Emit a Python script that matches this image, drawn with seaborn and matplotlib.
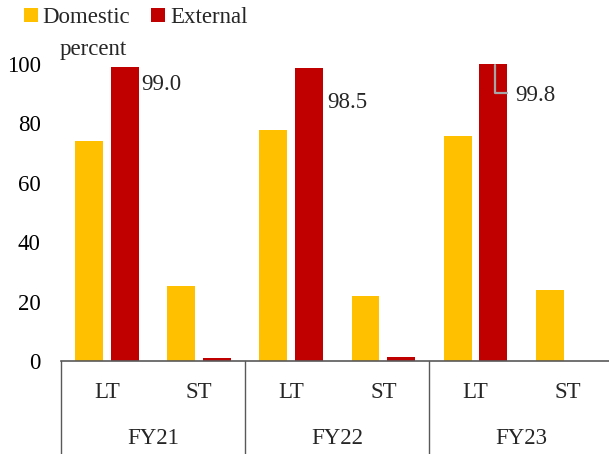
import matplotlib
matplotlib.use("Agg")
import matplotlib.pyplot as plt
from matplotlib.lines import Line2D
from matplotlib.patches import Patch
import matplotlib.transforms as mtransforms
import pandas as pd
import seaborn as sns

# Debt composition by maturity, percent of each creditor group
years = ["FY21", "FY22", "FY23"]
terms = ["LT", "ST"]
series = ["Domestic", "External"]
domestic = [74.2, 25.2, 77.8, 21.9, 75.8, 24.0]
external = [99.0, 1.0, 98.5, 1.5, 99.8, 0.2]
labelled_values = [99.0, 98.5, 99.8]
y_ticks = [0, 20, 40, 60, 80, 100]
colors = ["#FFC000", "#C00000"]

categories = [f"{y} {t}" for y in years for t in terms]
df = pd.DataFrame({
    "category": categories * 2,
    "series": [series[0]] * len(categories) + [series[1]] * len(categories),
    "value": domestic + external,
})

sns.set_style("white")
plt.rcParams["font.family"] = ["Liberation Serif", "DejaVu Serif"]
FS = 16.5

W, H = 609, 454
fig = plt.figure(figsize=(W / 100, H / 100), dpi=100)
ax_left, ax_zero, ax_top = 61, 361.3, 63.8
cat_w = 92.1
ax = fig.add_axes([ax_left / W, 1 - ax_zero / H, 6 * cat_w / W, (ax_zero - ax_top) / H])

sns.barplot(data=df, x="category", y="value", hue="series", order=categories,
            hue_order=series, palette=colors, saturation=1, width=0.775,
            gap=0.216, linewidth=0, legend=False, ax=ax)

ax.set_xlim(-0.5, len(categories) - 0.5)
ax.set_ylim(0, 100)
ax.set_yticks(y_ticks)
ax.set_yticklabels([str(v) for v in y_ticks], fontsize=FS, color="#000000")
ax.tick_params(axis="y", length=0, pad=14.6)
ax.set_xticks([])
ax.set_xlabel("")
ax.set_ylabel("")
for side in ["left", "top", "right"]:
    ax.spines[side].set_visible(False)
ax.spines["bottom"].set_color("#595959")
ax.spines["bottom"].set_linewidth(1.2)

# Two-level category axis: term labels, year labels and group separators
blend = mtransforms.blended_transform_factory(ax.transData, ax.transAxes)
span = ax_zero - ax_top
y_term = -(392 - ax_zero) / span
y_year = -(438.5 - ax_zero) / span
y_floor = -(H - ax_zero + 2) / span
for i, cat in enumerate(categories):
    ax.text(i, y_term, cat.split(" ")[1], transform=blend, ha="center",
            va="center", fontsize=FS)
for g, year in enumerate(years):
    ax.text(2 * g + 0.5, y_year, year, transform=blend, ha="center",
            va="center", fontsize=FS)
for g in range(len(years) + 1):
    ax.add_line(Line2D([2 * g - 0.5, 2 * g - 0.5], [0, y_floor], transform=blend,
                       color="#595959", lw=1.0, clip_on=False))

# Value labels on the long-term external bars
ext_bars = ax.containers[1]
label_offsets = [(2, -18), (4, -34), (8, -31)]
for (idx, val), (dx, dy) in zip(zip([0, 2, 4], labelled_values), label_offsets):
    bar = ext_bars[idx]
    xr = bar.get_x() + bar.get_width()
    ax.annotate(f"{val:.1f}", xy=(xr, val), xytext=(dx, dy),
                textcoords="offset pixels", ha="left", va="center", fontsize=FS)

# Leader line for the FY23 label, which sits beside the bar top
bar = ext_bars[4]
xr = bar.get_x() + bar.get_width()
px, py = ax.transData.transform((xr, labelled_values[2]))
lead_x = [px - 12, px - 12, px]
lead_y = [py - 1, py - 28.5, py - 28.5]
fig.add_artist(Line2D(lead_x, lead_y, transform=mtransforms.IdentityTransform(),
                      color="#A6A6A6", lw=1.6))

fig.text(60 / W, 1 - 55 / H, "percent", ha="left", va="baseline", fontsize=FS)

handles = [Patch(facecolor=c, edgecolor="none") for c in colors]
fig.legend(handles, series, loc="upper left", bbox_to_anchor=(24 / W, 1 - 7 / H),
           ncol=2, frameon=False, fontsize=FS, handlelength=0.6,
           handleheight=0.6, handletextpad=0.22, columnspacing=0.9,
           borderpad=0, borderaxespad=0)

fig.savefig("out.png", dpi=100)
